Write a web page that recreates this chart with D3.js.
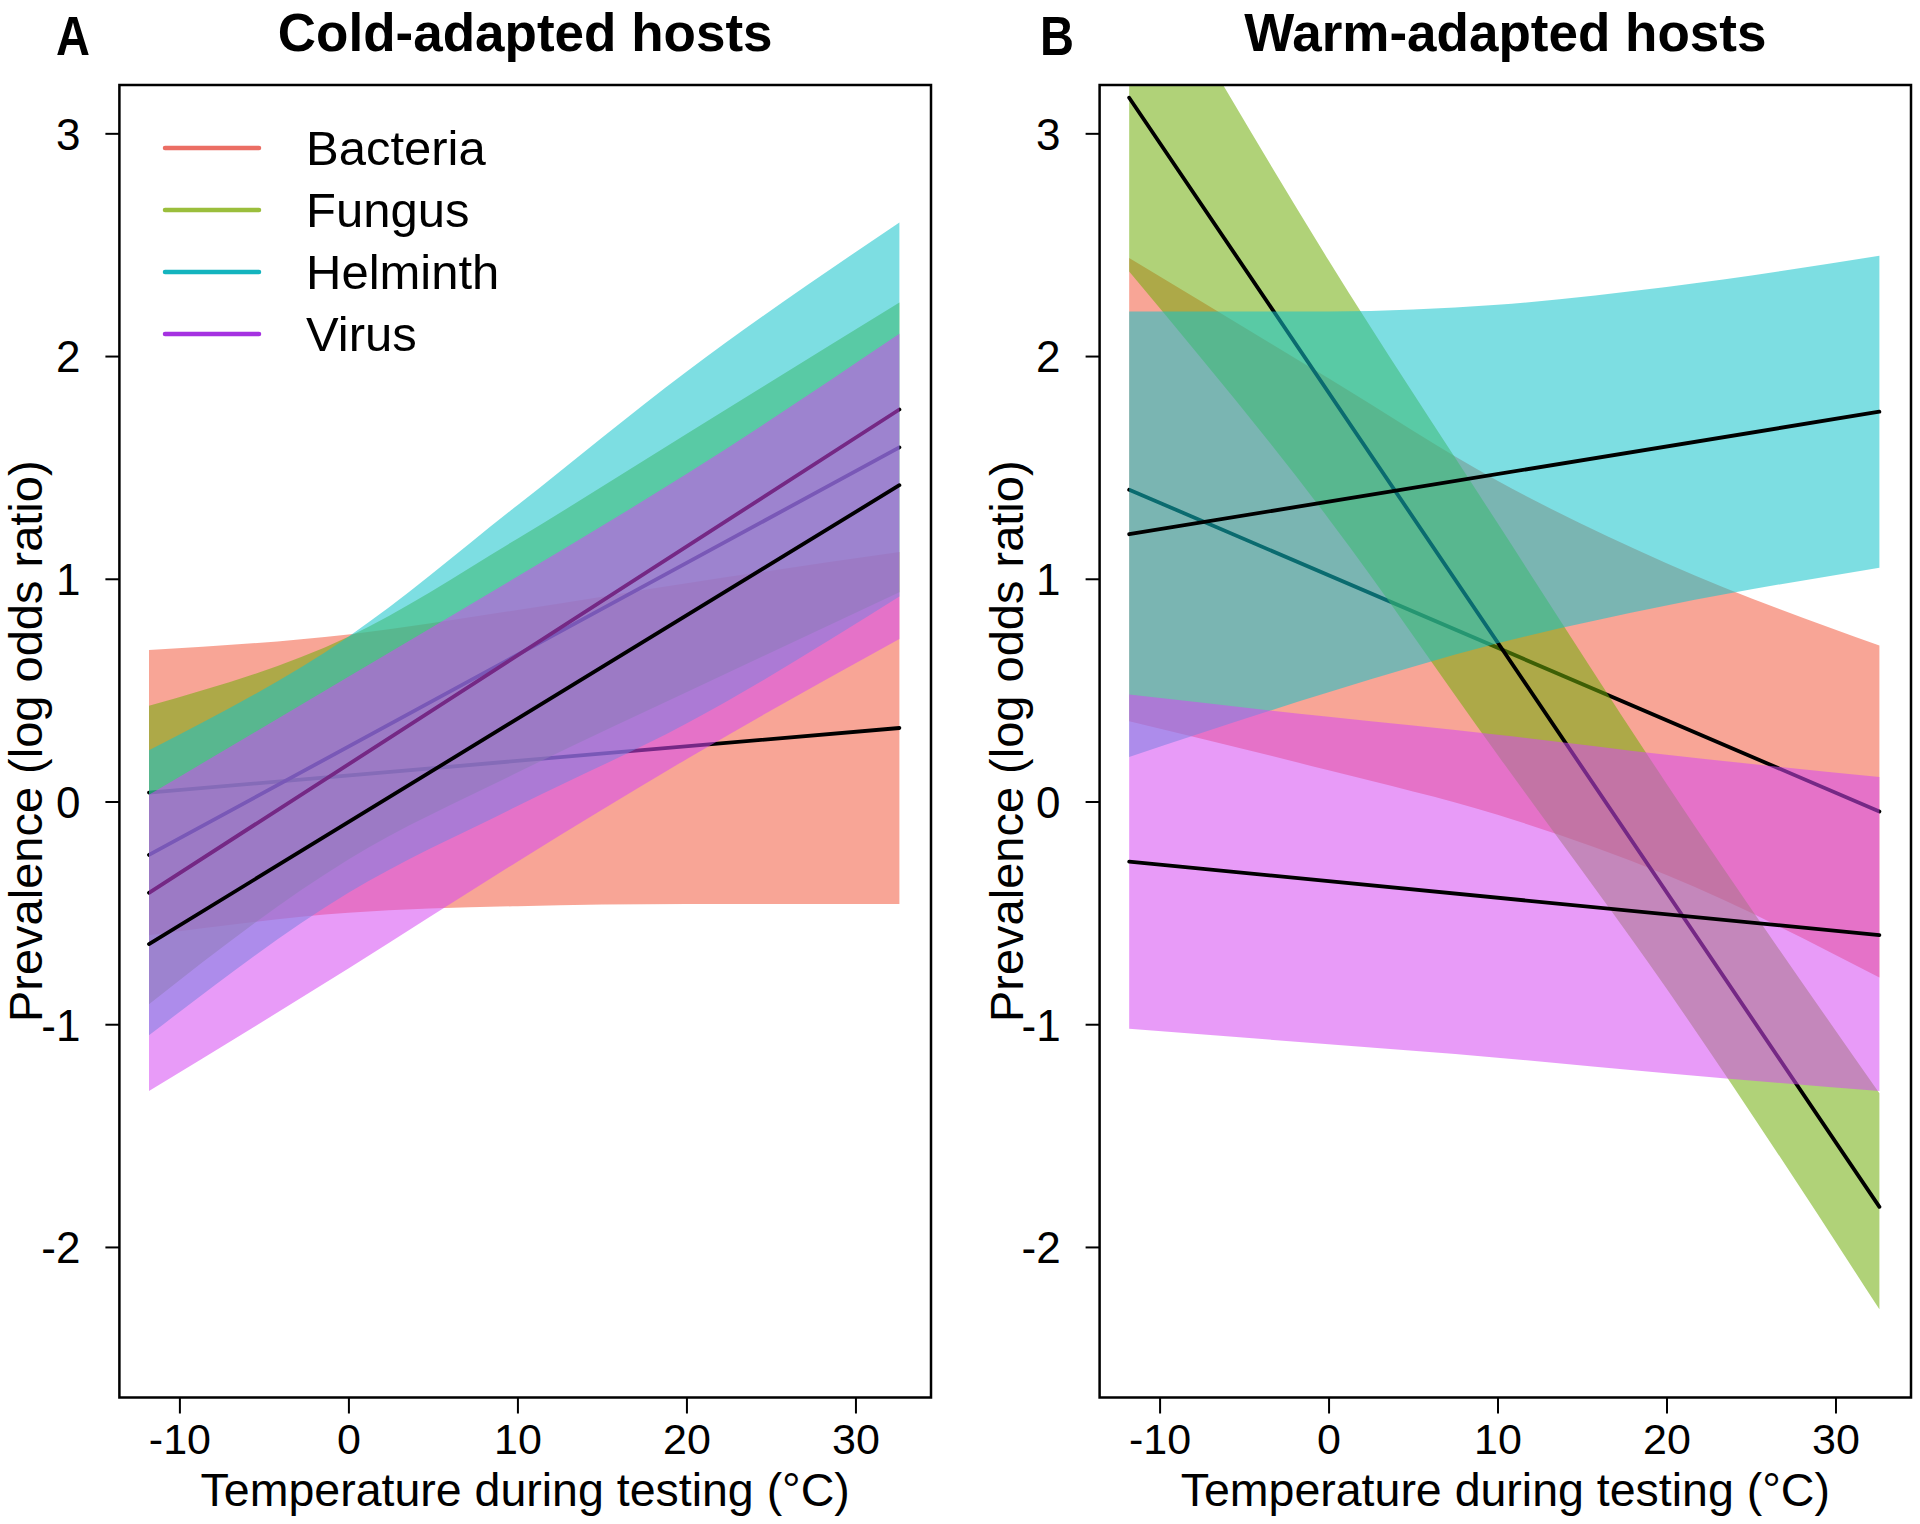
<!DOCTYPE html>
<html><head><meta charset="utf-8">
<script src="https://cdn.jsdelivr.net/npm/d3@7"></script>
<style>
body{margin:0;background:#fff}
svg{display:block;background:#fff}
text{font-family:"Liberation Sans",Arial,Helvetica,sans-serif;fill:#000}
</style>
</head><body>
<svg id="chart" width="1920" height="1524"></svg>
<script>
// ---------------- DATA ----------------
const categories = ["Bacteria", "Fungus", "Helminth", "Virus"];
const panelTitles = ["Cold-adapted hosts", "Warm-adapted hosts"];
const panelLetters = ["A", "B"];
const xTickValues = [-10, 0, 10, 20, 30];
const xTickLabels = ["-10", "0", "10", "20", "30"];
const yTickValues = [-2, -1, 0, 1, 2, 3];
const yTickLabels = ["-2", "-1", "0", "1", "2", "3"];
const xAxisTitle = "Temperature during testing (°C)";
const yAxisTitle = "Prevalence (log odds ratio)";

// temperatures at which band edges were read; fit lines are straight (two ends)
const bandTemps = [-11.8, 0, 10, 20, 32.6];
const fitTemps = [-11.8, 32.6];

// Cold-adapted hosts (panel A)
const coldBacteriaFit = [0.04, 0.33];
const coldBacteriaUpper = [0.68, 0.75, 0.86, 0.98, 1.12];
const coldBacteriaLower = [-0.60, -0.50, -0.47, -0.46, -0.46];
const coldFungusFit = [-0.24, 1.59];
const coldFungusUpper = [0.43, 0.74, 1.18, 1.65, 2.24];
const coldFungusLower = [-0.91, -0.26, 0.13, 0.49, 0.94];
const coldHelminthFit = [-0.41, 1.76];
const coldHelminthUpper = [0.23, 0.74, 1.33, 1.93, 2.60];
const coldHelminthLower = [-1.05, -0.41, -0.02, 0.35, 0.92];
const coldVirusFit = [-0.64, 1.42];
const coldVirusUpper = [0.03, 0.56, 1.01, 1.47, 2.10];
const coldVirusLower = [-1.30, -0.75, -0.27, 0.19, 0.73];

// Warm-adapted hosts (panel B)
const warmBacteriaFit = [1.40, -0.045];
const warmBacteriaUpper = [2.44, 1.90, 1.44, 1.07, 0.70];
const warmBacteriaLower = [0.36, 0.14, -0.06, -0.33, -0.79];
const warmFungusFit = [3.16, -1.82];
const warmFungusUpper = [3.94, 2.43, 1.25, 0.08, -1.31];
const warmFungusLower = [2.38, 1.27, 0.21, -0.84, -2.28];
const warmHelminthFit = [1.20, 1.75];
const warmHelminthUpper = [2.20, 2.20, 2.23, 2.31, 2.45];
const warmHelminthLower = [0.20, 0.49, 0.71, 0.88, 1.05];
const warmVirusFit = [-0.27, -0.60];
const warmVirusUpper = [0.48, 0.38, 0.30, 0.21, 0.11];
const warmVirusLower = [-1.02, -1.09, -1.15, -1.22, -1.30];

// ---------------- STYLE ----------------
const bandColors = ["#F25B40", "#6FAD0A", "#13C3CA", "#D549F2"];
const legendColors = ["#EB6E64", "#9BBE3C", "#14B4BE", "#A532E1"];
const bandOpacity = 0.55;

const panelSeries = [
  [
    {fit: coldBacteriaFit, up: coldBacteriaUpper, lo: coldBacteriaLower},
    {fit: coldFungusFit, up: coldFungusUpper, lo: coldFungusLower},
    {fit: coldHelminthFit, up: coldHelminthUpper, lo: coldHelminthLower},
    {fit: coldVirusFit, up: coldVirusUpper, lo: coldVirusLower}
  ],
  [
    {fit: warmBacteriaFit, up: warmBacteriaUpper, lo: warmBacteriaLower},
    {fit: warmFungusFit, up: warmFungusUpper, lo: warmFungusLower},
    {fit: warmHelminthFit, up: warmHelminthUpper, lo: warmHelminthLower},
    {fit: warmVirusFit, up: warmVirusUpper, lo: warmVirusLower}
  ]
];

const layout = [
  {left: 119.4, right: 931, letterX: 56},
  {left: 1099.6, right: 1911, letterX: 1040}
];
const TOP = 85, BOTTOM = 1397.5;

const svg = d3.select("#chart");

layout.forEach((L, p) => {
  const x = d3.scaleLinear().domain([-13.55, 34.47]).range([L.left, L.right]);
  const y = d3.scaleLinear().domain([-2.676, 3.217]).range([BOTTOM, TOP]);
  const g = svg.append("g");

  const clipId = "clip" + p;
  svg.append("defs").append("clipPath").attr("id", clipId)
    .append("rect").attr("x", L.left).attr("y", TOP)
    .attr("width", L.right - L.left).attr("height", BOTTOM - TOP);

  const plot = g.append("g").attr("clip-path", `url(#${clipId})`);

  const area = d3.area()
    .x((d, i) => x(bandTemps[i]))
    .y0(d => y(d[0]))
    .y1(d => y(d[1]))
    .curve(d3.curveMonotoneX);
  const line = d3.line()
    .x((d, i) => x(fitTemps[i]))
    .y(d => y(d));

  panelSeries[p].forEach((s, k) => {
    const pts = s.lo.map((v, i) => [v, s.up[i]]);
    plot.append("path").attr("d", area(pts))
      .attr("fill", bandColors[k]).attr("fill-opacity", bandOpacity)
      .attr("stroke", "none");
    plot.append("path").attr("d", line(s.fit))
      .attr("fill", "none").attr("stroke", "#000")
      .attr("stroke-width", 3.8).attr("stroke-linecap", "round");
  });

  // box
  g.append("rect").attr("x", L.left).attr("y", TOP)
    .attr("width", L.right - L.left).attr("height", BOTTOM - TOP)
    .attr("fill", "none").attr("stroke", "#000").attr("stroke-width", 2.5);

  // x axis
  const xa = g.append("g").attr("transform", `translate(0,${BOTTOM})`)
    .call(d3.axisBottom(x).tickValues(xTickValues)
      .tickFormat((d, i) => xTickLabels[i]).tickSize(16).tickPadding(8));
  xa.select(".domain").remove();
  xa.selectAll(".tick line").attr("stroke", "#000").attr("stroke-width", 2);
  xa.selectAll(".tick text").attr("y", 56.5).attr("dy", 0)
    .attr("font-size", 43).attr("fill", "#000")
    .style("font-family", '"Liberation Sans",Arial,sans-serif');

  // y axis
  const ya = g.append("g").attr("transform", `translate(${L.left},0)`)
    .call(d3.axisLeft(y).tickValues(yTickValues)
      .tickFormat((d, i) => yTickLabels[i]).tickSize(14).tickPadding(25));
  ya.select(".domain").remove();
  ya.selectAll(".tick line").attr("stroke", "#000").attr("stroke-width", 2);
  ya.selectAll(".tick text").attr("dy", "0.36em")
    .attr("font-size", 44).attr("fill", "#000")
    .style("font-family", '"Liberation Sans",Arial,sans-serif');

  const cx = (L.left + L.right) / 2;
  // axis titles
  g.append("text").attr("x", cx).attr("y", 1506)
    .attr("text-anchor", "middle").attr("font-size", 46.5).text(xAxisTitle);
  g.append("text")
    .attr("transform", `translate(${L.left - 77},${(TOP + BOTTOM) / 2}) rotate(-90)`)
    .attr("text-anchor", "middle").attr("font-size", 47).text(yAxisTitle);

  // panel title
  g.append("text").attr("x", cx).attr("y", 51)
    .attr("text-anchor", "middle").attr("font-size", 53).attr("font-weight", "bold")
    .text(panelTitles[p]);
  g.append("text")
    .attr("transform", `translate(${L.letterX},55) scale(0.84,1)`)
    .attr("font-size", 56).attr("font-weight", "bold").text(panelLetters[p]);

  // legend (panel A only)
  if (p === 0) {
    const lg = g.append("g");
    categories.forEach((c, i) => {
      const ly = 148 + 62 * i;
      lg.append("line").attr("x1", 165).attr("x2", 259)
        .attr("y1", ly).attr("y2", ly)
        .attr("stroke", legendColors[i]).attr("stroke-width", 4.5)
        .attr("stroke-linecap", "round");
      lg.append("text").attr("x", 306).attr("y", ly).attr("dy", "0.35em")
        .attr("font-size", 49).text(c);
    });
  }
});
</script>
</body></html>
